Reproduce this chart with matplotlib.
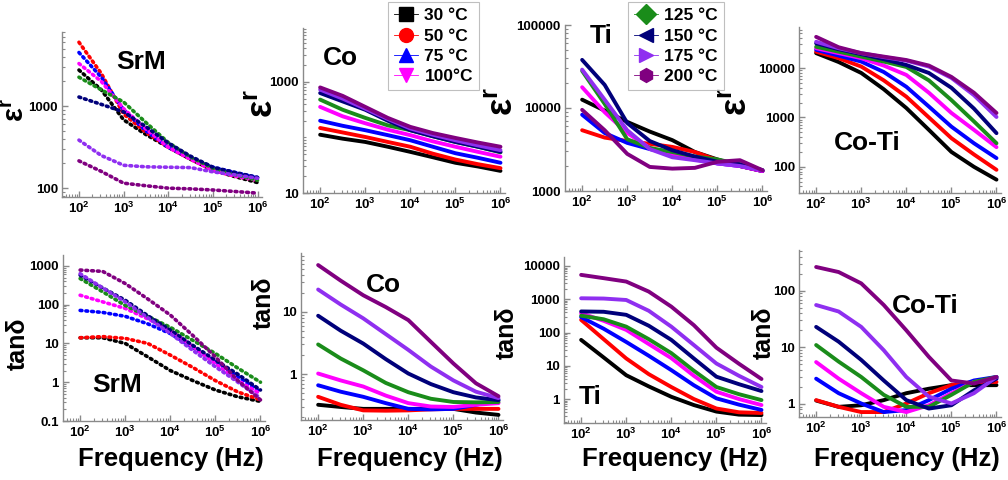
import math
import matplotlib
matplotlib.use('Agg')
import matplotlib.pyplot as plt
from matplotlib.lines import Line2D
from matplotlib.ticker import LogLocator, FixedLocator, FuncFormatter, NullFormatter

plt.rcParams['font.family'] = ['Liberation Sans', 'DejaVu Sans']
plt.rcParams['mathtext.fontset'] = 'custom'
plt.rcParams['mathtext.rm'] = 'Liberation Sans'
plt.rcParams['mathtext.bf'] = 'Liberation Sans:bold'

# ---------------- data ----------------
freq = [100, 316, 1000, 3162, 10000, 31623, 100000, 316228, 1000000]
temps = ['30 °C', '50 °C', '75 °C', '100°C', '125 °C', '150 °C', '175 °C', '200 °C']
colors = ['#000000', '#ff0000', '#0000ff', '#ff00ff', '#1a8c1a', '#00007a', '#8f2ff0', '#800080']
markers = ['s', 'o', '^', 'v', 'D', '<', '>', 'h']

# order of series in every panel: 30, 50, 75, 100, 125, 150, 175, 200 °C
srm_eps = [
    [2750, 1580, 680, 450, 315, 225, 165, 138, 117],
    [6000, 2500, 800, 480, 315, 225, 165, 140, 125],
    [4500, 2250, 900, 500, 315, 235, 180, 155, 135],
    [3300, 2000, 930, 525, 315, 225, 165, 140, 125],
    [2250, 1580, 1120, 630, 360, 240, 175, 145, 125],
    [1290, 1050, 850, 560, 355, 245, 180, 155, 135],
    [385, 250, 190, 182, 180, 178, 158, 145, 132],
    [215, 160, 115, 107, 100, 98, 95, 91, 87],
]
co_eps = [
    [112, 95, 83, 68, 55, 44, 35, 30, 25],
    [148, 123, 102, 83, 68, 51, 40, 33, 28],
    [200, 162, 135, 110, 89, 68, 52, 43, 35],
    [355, 240, 180, 138, 110, 85, 68, 55, 45],
    [480, 315, 225, 165, 135, 105, 83, 68, 54],
    [630, 445, 315, 200, 135, 105, 83, 68, 55],
    [725, 500, 330, 215, 145, 112, 89, 72, 59],
    [795, 560, 355, 225, 155, 120, 98, 81, 68],
]
ti_eps = [
    [12600, 9300, 6800, 5200, 4100, 2950, 2400, 2000, 1740],
    [5400, 4400, 4000, 3700, 3400, 2950, 2350, 2000, 1740],
    [8300, 5000, 3800, 3200, 2800, 2500, 2150, 2000, 1740],
    [17800, 8900, 5000, 3300, 2700, 2400, 2150, 2000, 1740],
    [28000, 11200, 4200, 3300, 2950, 2600, 2400, 2100, 1780],
    [38000, 19000, 6600, 4000, 3100, 2600, 2250, 2100, 1780],
    [29000, 12600, 5400, 3200, 2550, 2350, 2150, 2000, 1780],
    [9500, 5400, 2800, 1950, 1860, 1900, 2250, 2350, 1780],
]
coti_eps = [
    [20000, 13200, 7940, 3720, 1550, 560, 200, 100, 55],
    [21400, 15800, 10700, 5620, 2630, 1000, 380, 178, 87],
    [23400, 17800, 13500, 8300, 4170, 1660, 650, 300, 150],
    [25100, 20000, 15800, 11200, 7240, 3160, 1230, 560, 250],
    [26900, 21400, 17000, 13500, 10500, 5620, 2240, 830, 300],
    [31600, 24000, 19100, 15100, 11500, 7940, 3980, 1510, 480],
    [33900, 25100, 20000, 16600, 14100, 10700, 6300, 2820, 1020],
    [42700, 26300, 20000, 17000, 14500, 11200, 6600, 3160, 1230],
]
srm_tan = [
    [14, 14, 10, 4.5, 2.0, 1.1, 0.63, 0.42, 0.32],
    [14, 15, 13.5, 10, 5.0, 2.4, 1.1, 0.56, 0.35],
    [71, 63, 50, 32, 18, 7.9, 3.3, 1.4, 0.56],
    [175, 118, 80, 43, 22, 8.3, 3.0, 1.1, 0.5],
    [470, 215, 95, 50, 26, 12, 5.5, 2.3, 1.0],
    [575, 270, 130, 52, 22, 8.9, 3.7, 1.6, 0.63],
    [630, 270, 118, 46, 18, 6.6, 2.5, 1.0, 0.39],
    [780, 720, 350, 140, 54, 16, 4.5, 1.1, 0.35],
]
co_tan = [
    [0.32, 0.295, 0.275, 0.275, 0.275, 0.275, 0.275, 0.24, 0.22],
    [0.43, 0.32, 0.26, 0.257, 0.26, 0.27, 0.275, 0.275, 0.275],
    [0.66, 0.52, 0.43, 0.34, 0.275, 0.27, 0.275, 0.32, 0.38],
    [1.02, 0.79, 0.63, 0.45, 0.34, 0.30, 0.295, 0.32, 0.34],
    [3.0, 1.78, 1.15, 0.72, 0.51, 0.40, 0.355, 0.35, 0.355],
    [8.7, 5.0, 3.1, 1.74, 1.02, 0.69, 0.51, 0.42, 0.38],
    [23, 13.2, 7.9, 4.4, 2.45, 1.32, 0.79, 0.52, 0.41],
    [57, 32, 18.6, 12, 7.4, 3.3, 1.48, 0.71, 0.44],
]
ti_tan = [
    [60, 17.8, 5.2, 2.4, 1.17, 0.66, 0.42, 0.34, 0.33],
    [240, 63, 16.6, 5.6, 2.3, 1.0, 0.52, 0.4, 0.38],
    [290, 130, 52, 20, 7.4, 2.6, 1.05, 0.68, 0.47],
    [380, 225, 120, 45, 17, 5.0, 1.66, 1.0, 0.66],
    [320, 250, 150, 63, 24, 7.1, 2.3, 1.4, 0.93],
    [430, 420, 340, 160, 60, 16.6, 4.7, 2.8, 1.74],
    [1070, 1050, 950, 450, 150, 42, 11.7, 5.0, 2.3],
    [5400, 4300, 3400, 1700, 600, 166, 35, 11.5, 4.0],
]
coti_tan = [
    [1.15, 0.89, 0.95, 1.17, 1.55, 1.86, 2.15, 2.15, 2.15],
    [1.17, 0.89, 0.72, 0.72, 1.02, 1.55, 2.15, 2.45, 2.45],
    [2.8, 1.55, 1.02, 0.72, 0.78, 1.17, 1.86, 2.6, 3.0],
    [5.5, 2.8, 1.55, 0.89, 0.72, 0.95, 1.55, 2.45, 2.8],
    [11, 5.6, 3.0, 1.45, 0.89, 0.89, 1.45, 2.45, 3.0],
    [23, 12.6, 6.0, 2.6, 1.17, 0.83, 0.95, 1.74, 2.8],
    [56, 43, 23, 8.9, 3.0, 1.35, 1.02, 1.55, 3.0],
    [263, 214, 135, 56, 20, 6.8, 2.6, 2.3, 3.0],
]

# ---------------- figure ----------------
W, H = 1008, 480
fig = plt.figure(figsize=(W / 100, H / 100), dpi=100)
fig.patch.set_facecolor('white')

XLIM = (10 ** 1.62, 10 ** 6.1)
SPINE = '#8a8a8a'


def px_axes(x0, y0, x1, y1):
    return fig.add_axes([x0 / W, 1 - y1 / H, (x1 - x0) / W, (y1 - y0) / H])


def style(ax, ylim, yticks, ylabels):
    ax.set_xscale('log')
    ax.set_yscale('log')
    ax.set_xlim(*XLIM)
    ax.set_ylim(*ylim)
    for s in ('top', 'right'):
        ax.spines[s].set_visible(False)
    for s in ('left', 'bottom'):
        ax.spines[s].set_color(SPINE)
        ax.spines[s].set_linewidth(1.0)
    ax.set_facecolor('none')
    ax.xaxis.set_major_locator(FixedLocator([1e2, 1e3, 1e4, 1e5, 1e6]))
    ax.xaxis.set_major_formatter(FuncFormatter(
        lambda v, p: r'$\mathbf{10^{%d}}$' % round(math.log10(v))))
    ax.xaxis.set_minor_locator(LogLocator(base=10, subs=range(2, 10), numticks=20))
    ax.xaxis.set_minor_formatter(NullFormatter())
    ax.yaxis.set_major_locator(FixedLocator(yticks))
    ax.set_yticklabels(ylabels)
    ax.yaxis.set_minor_locator(LogLocator(base=10, subs=range(1, 10), numticks=20))
    ax.yaxis.set_minor_formatter(NullFormatter())
    ax.tick_params(which='major', direction='in', length=4, width=1, color=SPINE,
                   labelsize=9.5, pad=3)
    ax.tick_params(which='minor', direction='in', length=2, width=0.8, color=SPINE)
    for lab in ax.get_xticklabels() + ax.get_yticklabels():
        lab.set_fontweight('bold')


def draw(ax, data, dotted=False):
    for vals, c in zip(data, colors):
        if dotted:
            ax.plot(freq, vals, color=c, lw=2.6, ls=(0, (0.5, 1.1)),
                    dash_capstyle='round', solid_capstyle='round')
        else:
            ax.plot(freq, vals, color=c, lw=2.8, solid_capstyle='round')


panels = [
    # (pixel box, data, ylim, yticks, ylabels, dotted)
    ((62, 32, 262, 197), srm_eps, (78, 8000), [100, 1000], ['100', '1000'], True),
    ((303, 28, 505, 193), co_eps, (10, 10 ** 3.97), [10, 1000], ['10', '1000'], False),
    ((565, 25, 767, 191), ti_eps, (1000, 100000), [1000, 10000, 100000],
     ['1000', '10000', '100000'], False),
    ((799, 27, 1001, 193), coti_eps, (10 ** 1.47, 10 ** 4.83), [100, 1000, 10000],
     ['100', '1000', '10000'], False),
    ((63, 255, 265, 421), srm_tan, (0.1, 10 ** 3.28), [0.1, 1, 10, 100, 1000],
     ['0.1', '1', '10', '100', '1000'], True),
    ((301, 253, 503, 420), co_tan, (10 ** -0.74, 10 ** 1.95), [1, 10], ['1', '10'], False),
    ((564, 257, 766, 423), ti_tan, (10 ** -0.72, 10 ** 4.27), [1, 10, 100, 1000, 10000],
     ['1', '10', '100', '1000', '10000'], False),
    ((799, 250, 1001, 417), coti_tan, (10 ** -0.23, 10 ** 2.72), [1, 10, 100],
     ['1', '10', '100'], False),
]

for box, data, ylim, yt, yl, dotted in panels:
    ax = px_axes(*box)
    draw(ax, data, dotted)
    style(ax, ylim, yt, yl)


def ftext(x, y, s, size, **kw):
    fig.text(x / W, 1 - y / H, s, fontsize=size, fontweight='bold',
             ha='center', va='center', **kw)


# panel names
for (x, y, s) in [(141, 62, 'SrM'), (340, 58, 'Co'), (601, 36, 'Ti'), (867, 143, 'Co-Ti'),
                  (117, 385, 'SrM'), (383, 285, 'Co'), (590, 397, 'Ti'), (925, 306, 'Co-Ti')]:
    ftext(x, y, s, 19)

# x labels
for x in (171, 410, 675, 907):
    ftext(x, 459, 'Frequency (Hz)', 18.5)

# tan delta labels
for (x, y) in [(18, 344), (264, 303), (507, 333), (764, 333)]:
    ftext(x, y, 'tanδ', 18, rotation=90)

# epsilon_r labels (epsilon with raised r, rotated)
for (x, y, s) in [(16, 110, 21), (262, 104, 26), (503, 102, 26), (736, 102, 26)]:
    ftext(x, y, r'$\mathbf{ε^{r}}$', s, rotation=90)

# legends
def make_legend(idx, x, y):
    handles = [Line2D([0], [0], color=colors[i], marker=markers[i], markersize=10,
                      lw=0.6, markeredgecolor=colors[i]) for i in idx]
    labels = [temps[i] for i in idx]
    leg = fig.legend(handles, labels, loc='upper left',
                     bbox_to_anchor=(x / W, 1 - y / H), frameon=True, fancybox=False,
                     edgecolor='#b0b0b0', handlelength=1.4, handletextpad=0.35,
                     labelspacing=0.3, borderpad=0.35, borderaxespad=0,
                     prop={'weight': 'bold', 'size': 12.5})
    leg.get_frame().set_linewidth(0.8)


make_legend([0, 1, 2, 3], 388, 2)
make_legend([4, 5, 6, 7], 628, 2)

fig.savefig('out.png', dpi=100)
